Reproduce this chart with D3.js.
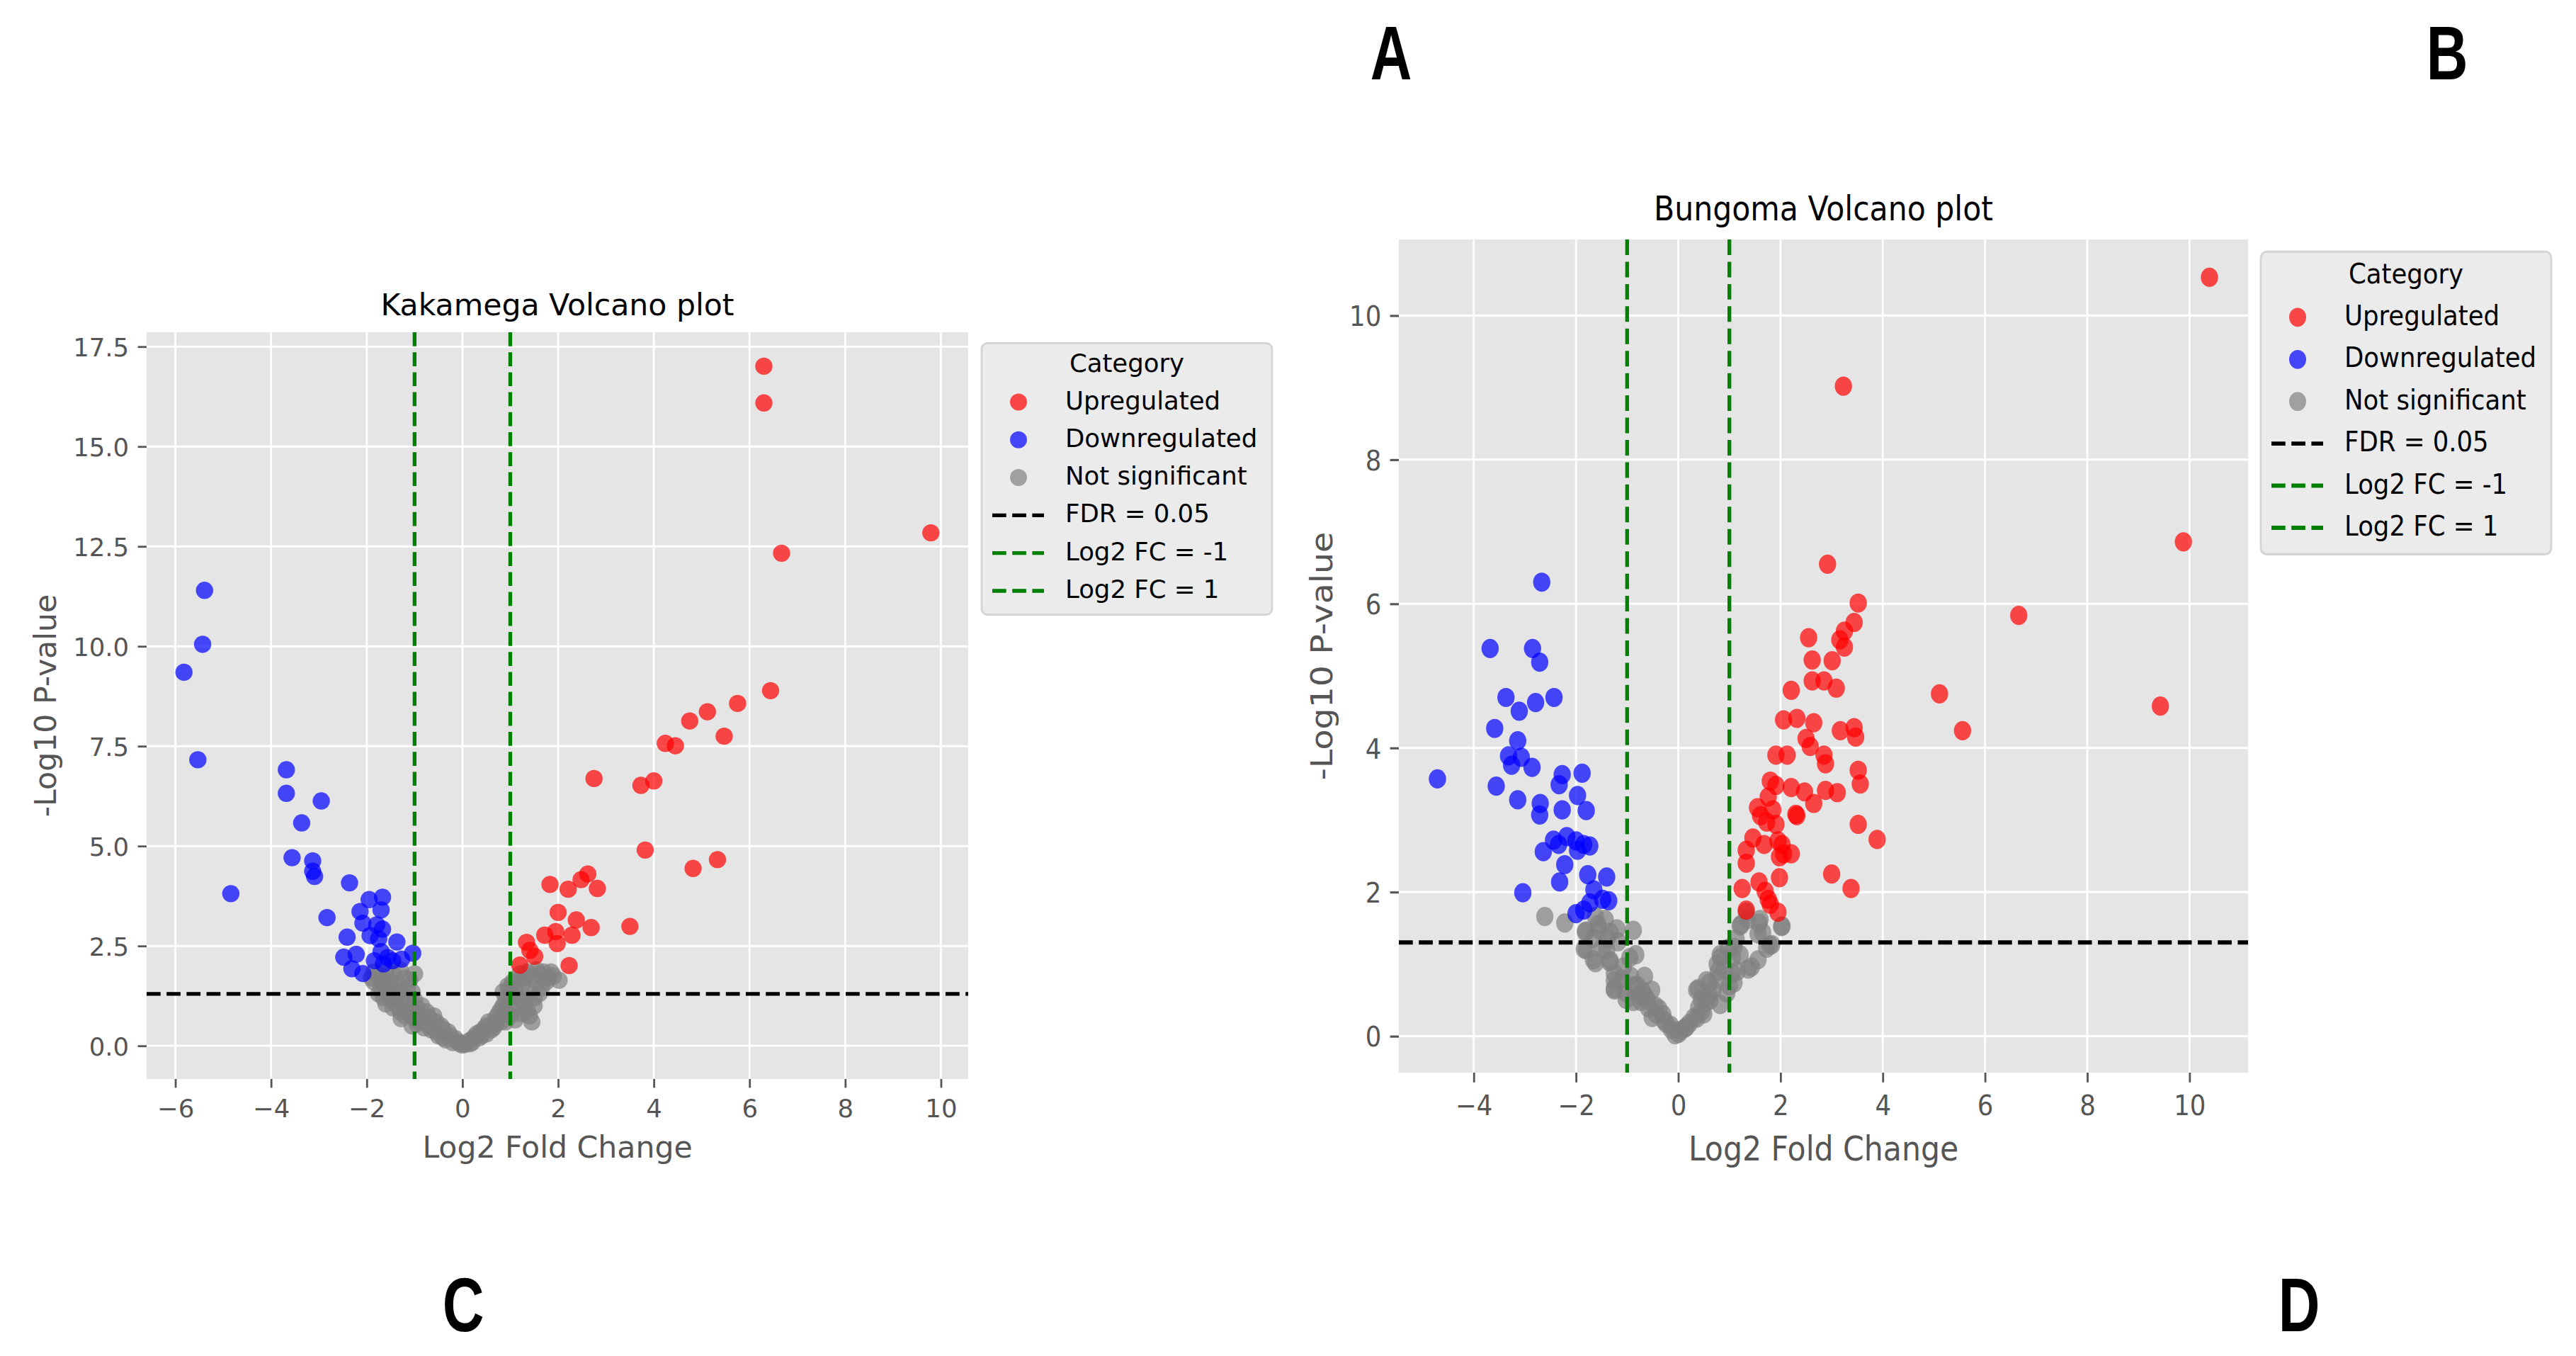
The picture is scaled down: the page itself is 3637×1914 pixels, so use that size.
<!DOCTYPE html>
<html>
<head>
<meta charset="utf-8">
<script src="https://cdn.jsdelivr.net/npm/d3@7"></script>
<style>
  body { margin: 0; background: #fff; }
  svg { display: block; }
</style>
</head>
<body>
<svg id="fig" width="3637" height="1914"></svg>
<script>
// ---- data: [log2 fold change, -log10 p-value] ----
var kakamegaUp = [
  [6.30,17.01],[6.30,16.09],[9.79,12.84],[6.67,12.33],[6.44,8.89],[5.75,8.57],[5.12,8.36],
  [4.75,8.13],[5.47,7.75],[4.24,7.57],[4.45,7.51],[2.75,6.69],[3.73,6.52],[4.00,6.63],
  [3.82,4.90],[4.82,4.44],[5.33,4.66],[1.83,4.04],[2.21,3.92],[2.48,4.16],[2.62,4.30],
  [2.82,3.94],[2.00,3.34],[2.38,3.15],[2.69,2.96],[3.50,2.99],[1.72,2.77],[1.95,2.86],
  [2.29,2.77],[1.98,2.56],[1.34,2.59],[1.41,2.39],[1.51,2.24],[1.20,2.02],[2.23,2.01]
];
var kakamegaDown = [
  [-5.39,11.40],[-5.43,10.05],[-5.82,9.35],[-5.53,7.16],[-4.84,3.81],[-3.68,6.91],[-3.68,6.32],
  [-2.95,6.13],[-3.36,5.58],[-3.56,4.71],[-3.13,4.63],[-3.13,4.37],[-3.09,4.24],[-2.36,4.08],
  [-2.83,3.21],[-1.95,3.66],[-1.67,3.72],[-1.70,3.40],[-2.14,3.36],[-2.08,3.07],[-1.79,3.03],
  [-1.67,2.92],[-1.93,2.76],[-1.75,2.68],[-2.41,2.72],[-1.37,2.60],[-2.48,2.22],[-2.22,2.29],
  [-2.31,1.93],[-2.08,1.81],[-1.84,2.13],[-1.65,2.05],[-1.46,2.13],[-1.27,2.17],[-1.04,2.32],
  [-1.56,2.21],[-1.70,2.36]
];
var kakamegaNs = [
  [-1.75,1.75],[-1.60,1.85],[-1.45,1.80],[-1.30,1.90],[-1.20,1.70],[-1.65,1.55],[-1.50,1.60],
  [-1.35,1.55],[-1.15,1.45],[-1.05,1.35],[-1.70,1.45],[-1.55,1.30],[-1.40,1.20],[-1.25,1.10],
  [-1.60,1.05],[-1.45,0.95],[-1.30,0.85],[-1.20,0.75],[-1.00,1.15],[-0.95,0.95],[-0.85,1.00],
  [-0.90,0.80],[-0.75,0.85],[-0.70,0.70],[-0.60,0.75],[-0.55,0.60],[-0.45,0.50],[-0.40,0.42],
  [-0.30,0.35],[-0.25,0.25],[-0.15,0.18],[-0.10,0.10],[-0.05,0.05],[0.00,0.02],[0.05,0.04],
  [0.10,0.10],[0.18,0.15],[0.25,0.22],[0.30,0.30],[0.38,0.35],[0.45,0.42],[0.50,0.50],
  [0.55,0.60],[0.62,0.55],[0.70,0.70],[0.75,0.80],[0.80,0.90],[0.85,1.00],[0.90,1.15],
  [0.95,1.30],[0.85,1.35],[0.95,1.50],[1.05,1.60],[1.10,1.40],[1.15,1.20],[1.20,1.00],
  [1.30,1.10],[1.35,0.90],[1.25,1.50],[1.40,1.35],[1.50,1.20],[1.30,1.70],[1.45,1.75],
  [1.55,1.60],[1.60,1.80],[1.70,1.85],[1.80,1.70],[1.65,1.45],[2.02,1.64],[-1.05,0.50],
  [-0.95,0.55],[-1.00,0.70],[1.00,0.75],[1.10,0.65],[1.45,0.60],[-1.28,0.68],[-1.85,1.60],
  [-1.85,1.85],[-1.90,1.70],[-1.75,1.30],[-1.65,1.20],[-1.50,1.45],[-1.35,1.35],[-1.20,1.25],
  [-1.10,1.00],[-1.15,0.85],[-1.05,0.85],[-0.95,0.65],[-0.85,0.60],[-0.80,0.45],[-0.70,0.50],
  [-0.65,0.40],[-0.55,0.35],[-0.50,0.25],[-0.40,0.20],[-0.35,0.15],[-0.20,0.08],[0.15,0.05],
  [0.20,0.08],[0.35,0.20],[0.40,0.25],[0.50,0.30],[0.60,0.40],[0.65,0.45],[0.70,0.55],
  [0.80,0.60],[0.90,0.60],[0.95,0.80],[1.00,1.00],[1.05,1.25],[1.00,1.45],[1.15,1.65],
  [1.20,1.80],[1.35,1.85],[1.55,1.90],[1.75,1.60],[1.85,1.85],[1.90,1.75],[1.60,1.30],
  [1.50,1.00],[1.40,0.75],[1.25,0.80],[-1.50,1.15],[-1.35,1.00],[-1.60,1.70],[-1.00,1.80],
  [-1.10,1.65]
];

var bungomaUp = [
  [10.39,10.53],[3.23,9.02],[9.88,6.86],[2.92,6.55],[6.66,5.84],[3.52,6.01],[3.44,5.74],
  [3.25,5.62],[3.16,5.50],[3.25,5.40],[2.55,5.53],[2.62,5.22],[3.01,5.21],[2.62,4.93],
  [2.85,4.93],[3.09,4.83],[2.21,4.80],[5.11,4.75],[9.43,4.58],[5.56,4.24],[2.06,4.39],
  [2.32,4.41],[2.65,4.35],[3.17,4.24],[3.44,4.28],[3.47,4.15],[2.50,4.13],[2.58,4.02],
  [1.91,3.90],[2.13,3.90],[2.85,3.90],[2.88,3.78],[3.52,3.69],[3.56,3.50],[1.80,3.54],
  [1.91,3.48],[2.21,3.45],[2.47,3.39],[2.88,3.41],[3.11,3.38],[2.65,3.23],[1.76,3.32],
  [1.55,3.17],[1.85,3.14],[1.61,3.06],[1.73,2.97],[1.91,2.94],[2.30,3.08],[2.32,3.06],
  [3.52,2.94],[3.89,2.73],[1.46,2.75],[1.95,2.71],[2.03,2.66],[1.68,2.66],[1.33,2.58],
  [2.06,2.53],[2.21,2.53],[1.33,2.40],[1.98,2.49],[3.00,2.25],[1.98,2.20],[1.58,2.14],
  [3.38,2.05],[1.25,2.05],[1.70,2.01],[1.76,1.90],[1.80,1.83],[1.33,1.75],[1.95,1.72]
];
var bungomaDown = [
  [-2.67,6.30],[-3.68,5.38],[-2.85,5.38],[-2.71,5.19],[-3.37,4.70],[-2.43,4.70],[-3.11,4.51],
  [-2.79,4.63],[-3.59,4.27],[-3.14,4.10],[-3.32,3.89],[-3.07,3.87],[-3.26,3.76],[-2.86,3.73],
  [-4.71,3.57],[-2.27,3.63],[-1.88,3.65],[-2.33,3.49],[-3.56,3.47],[-3.14,3.28],[-1.97,3.34],
  [-2.70,3.23],[-2.71,3.07],[-2.27,3.14],[-1.80,3.13],[-2.44,2.72],[-2.18,2.77],[-2.00,2.71],
  [-1.85,2.66],[-1.73,2.64],[-2.34,2.66],[-1.97,2.58],[-2.64,2.56],[-2.22,2.38],[-2.32,2.14],
  [-1.77,2.24],[-1.40,2.21],[-3.04,1.99],[-1.65,2.03],[-1.48,1.90],[-1.73,1.85],[-1.36,1.88],
  [-2.00,1.70],[-1.85,1.75]
];
var bungomaNs = [
  [-2.61,1.66],[-2.22,1.57],[-1.62,1.66],[-1.80,1.46],[-1.55,1.48],[-1.33,1.44],[-0.88,1.47],
  [-1.18,1.31],[-1.80,1.20],[-1.40,1.20],[-1.62,1.02],[-1.33,1.05],[-0.95,1.09],[-1.25,0.87],
  [-1.10,0.79],[-1.25,0.66],[-1.03,0.61],[-0.80,0.70],[-0.66,0.57],[-0.88,0.48],[-0.58,0.39],
  [-0.43,0.31],[-0.28,0.22],[-0.13,0.09],[0.01,0.04],[0.16,0.13],[0.31,0.26],[0.46,0.35],
  [0.39,0.66],[0.61,0.74],[0.76,0.79],[0.91,0.92],[0.83,1.09],[0.98,1.22],[1.13,1.35],
  [1.21,1.53],[1.36,1.62],[1.58,1.57],[1.65,1.44],[1.43,0.96],[1.73,1.22],[1.83,1.27],
  [2.03,1.53],[1.06,1.09],[0.76,1.00],[-0.51,0.26],[-0.73,0.48],[0.61,0.57],[0.54,0.48],
  [1.21,1.13],
  [-1.82,1.45],[-1.84,1.21],[-1.66,1.06],[-1.57,1.55],[-1.43,1.62],[-1.20,1.49],[-0.83,1.13],
  [-1.48,1.23],[-1.34,1.03],[-1.25,0.77],[-1.25,0.64],[-1.02,0.51],[-0.93,0.83],[-0.66,0.83],
  [-0.52,0.64],[-0.38,0.38],[-0.24,0.18],[-0.06,0.02],[0.13,0.11],[0.36,0.25],[0.45,0.51],
  [0.55,0.77],[0.82,0.44],[0.78,0.90],[1.00,0.70],[1.05,0.87],[0.82,1.13],[1.09,1.23],
  [1.23,1.55],[1.33,1.72],[1.60,1.62],[1.56,1.42],[1.79,1.26],[1.56,1.06],[1.37,0.93],
  [2.02,1.52],[1.09,0.74],[0.36,0.64],[-0.75,0.57],[-1.07,0.96],[-1.39,1.36],[-1.66,1.36],
  [0.68,0.64],[0.50,0.31],[-0.85,0.70],[-0.70,0.62],[-0.60,0.50],[-0.45,0.42],[-0.30,0.30],
  [-0.15,0.15],[0.05,0.08],[0.22,0.18],[0.40,0.40],[0.62,0.50],[0.95,0.60],[1.15,0.90]
];

var kakamegaXTicks = [-6, -4, -2, 0, 2, 4, 6, 8, 10];
var kakamegaYTicks = [0, 2.5, 5, 7.5, 10, 12.5, 15, 17.5];
var bungomaXTicks = [-4, -2, 0, 2, 4, 6, 8, 10];
var bungomaYTicks = [0, 2, 4, 6, 8, 10];

var fdrCutoff = 0.05;
var lfcCutoffs = [-1, 1];
var categories = ["Upregulated", "Downregulated", "Not significant"];
var lineLabels = ["FDR = 0.05", "Log2 FC = -1", "Log2 FC = 1"];
var panelLetters = ["A", "B", "C", "D"];

var FONT = "'DejaVu Sans', Verdana, sans-serif";
var catColor = { "Upregulated": "#ff0000", "Downregulated": "#0000ff", "Not significant": "#808080" };

var svg = d3.select("#fig");

function padded(ext) {
  var m = (ext[1] - ext[0]) * 0.05;
  return [ext[0] - m, ext[1] + m];
}

function drawVolcano(p) {
  var sy = p.sy,
      x0 = p.left, x1 = p.right,
      y0 = p.top / sy, y1 = p.bottom / sy;

  var g = svg.append("g").attr("transform", "scale(1," + sy + ")");

  var all = p.ns.concat(p.down, p.up);
  var xScale = d3.scaleLinear().domain(padded(d3.extent(all, function(d) { return d[0]; }))).range([x0, x1]);
  var yScale = d3.scaleLinear().domain(padded(d3.extent(all, function(d) { return d[1]; }))).range([y1, y0]);

  // panel background
  g.append("rect")
   .attr("x", x0).attr("y", y0)
   .attr("width", x1 - x0).attr("height", y1 - y0)
   .attr("fill", "#e5e5e5");

  // white grid
  var grid = g.append("g").attr("stroke", "#ffffff").attr("stroke-width", 2.8);
  grid.selectAll(".vg").data(p.xTicks).enter().append("line")
      .attr("x1", function(d) { return xScale(d); }).attr("x2", function(d) { return xScale(d); })
      .attr("y1", y0).attr("y2", y1);
  grid.selectAll(".hg").data(p.yTicks).enter().append("line")
      .attr("y1", function(d) { return yScale(d); }).attr("y2", function(d) { return yScale(d); })
      .attr("x1", x0).attr("x2", x1);

  // axes
  var xAxis = g.append("g")
     .attr("transform", "translate(0," + y1 + ")")
     .call(d3.axisBottom(xScale).tickValues(p.xTicks).tickSize(12.4).tickPadding(16.4).tickFormat(d3.format("d")));
  var yAxis = g.append("g")
     .attr("transform", "translate(" + x0 + ",0)")
     .call(d3.axisLeft(yScale).tickValues(p.yTicks).tickSize(12.4).tickPadding(12.4).tickFormat(d3.format(p.yFormat)));
  [xAxis, yAxis].forEach(function(ax) {
    ax.select(".domain").remove();
    ax.selectAll(".tick line").attr("stroke", "#555555").attr("stroke-width", 2.8);
    ax.selectAll(".tick text")
      .attr("fill", "#555555")
      .style("font-family", FONT)
      .style("font-size", "35.5px");
  });
  yAxis.selectAll(".tick text").attr("dy", "0.36em");

  // points
  function dots(data, cat) {
    g.append("g").selectAll("circle")
     .data(data)
     .enter().append("circle")
     .attr("cx", function(d) { return xScale(d[0]); })
     .attr("cy", function(d) { return yScale(d[1]); })
     .attr("r", 12.2)
     .attr("fill", catColor[cat])
     .attr("fill-opacity", 0.7);
  }
  dots(p.ns, "Not significant");
  dots(p.down, "Downregulated");
  dots(p.up, "Upregulated");

  // threshold lines
  var fdrY = yScale(-Math.log10(fdrCutoff));
  g.append("line")
   .attr("x1", x0).attr("x2", x1).attr("y1", fdrY).attr("y2", fdrY)
   .attr("stroke", "#000000").attr("stroke-width", 5.3).attr("stroke-dasharray", "19.7,8.5");
  g.selectAll(".fc").data(lfcCutoffs).enter().append("line")
   .attr("x1", function(d) { return xScale(d); }).attr("x2", function(d) { return xScale(d); })
   .attr("y1", y0).attr("y2", y1)
   .attr("stroke", "#008000").attr("stroke-width", 5.3).attr("stroke-dasharray", "19.7,8.5");

  // title and labels
  var cx = (x0 + x1) / 2;
  g.append("text")
   .attr("x", cx).attr("y", y0 - 24)
   .attr("text-anchor", "middle")
   .style("font-family", FONT).style("font-size", "42.6px")
   .attr("fill", "#000000")
   .text(p.title);
  g.append("text")
   .attr("x", cx).attr("y", y1 + 111)
   .attr("text-anchor", "middle")
   .style("font-family", FONT).style("font-size", "42.6px")
   .attr("fill", "#555555")
   .text("Log2 Fold Change");

  var tickW = 0;
  yAxis.selectAll(".tick text").each(function() { tickW = Math.max(tickW, this.getComputedTextLength()); });
  var ylx = x0 - 24.8 - tickW - 14.2 - 10;
  g.append("text")
   .attr("transform", "translate(" + ylx + "," + ((y0 + y1) / 2) + ") rotate(-90)")
   .attr("text-anchor", "middle")
   .style("font-family", FONT).style("font-size", "42.6px")
   .attr("fill", "#555555")
   .text("-Log10 P-value");

  // legend
  var lx = x1 + p.legendDx, ly = y0 + 15.5;
  var lg = g.append("g").attr("transform", "translate(" + lx + "," + ly + ")");
  lg.append("rect")
    .attr("width", 410).attr("height", 383).attr("rx", 8)
    .attr("fill", "#ebebeb").attr("stroke", "#d4d4d4").attr("stroke-width", 2.8);
  lg.append("text")
    .attr("x", 205).attr("y", 40)
    .attr("text-anchor", "middle")
    .style("font-family", FONT).style("font-size", "35.5px")
    .attr("fill", "#000000")
    .text("Category");
  var rowY = function(i) { return 93 + i * 53.3; };
  categories.forEach(function(c, i) {
    lg.append("circle")
      .attr("cx", 52).attr("cy", rowY(i) - 10).attr("r", 12)
      .attr("fill", catColor[c]).attr("fill-opacity", 0.7);
    lg.append("text")
      .attr("x", 118).attr("y", rowY(i))
      .style("font-family", FONT).style("font-size", "35.5px")
      .attr("fill", "#000000")
      .text(c);
  });
  lineLabels.forEach(function(l, j) {
    var i = j + 3;
    lg.append("line")
      .attr("x1", 15).attr("x2", 88).attr("y1", rowY(i) - 10).attr("y2", rowY(i) - 10)
      .attr("stroke", j === 0 ? "#000000" : "#008000")
      .attr("stroke-width", 5.3).attr("stroke-dasharray", "19.7,8.5");
    lg.append("text")
      .attr("x", 118).attr("y", rowY(i))
      .style("font-family", FONT).style("font-size", "35.5px")
      .attr("fill", "#000000")
      .text(l);
  });
}

drawVolcano({
  title: "Kakamega Volcano plot",
  up: kakamegaUp, down: kakamegaDown, ns: kakamegaNs,
  xTicks: kakamegaXTicks, yTicks: kakamegaYTicks, yFormat: ".1f",
  left: 207, right: 1367, top: 469, bottom: 1523, sy: 1, legendDx: 19
});
drawVolcano({
  title: "Bungoma Volcano plot",
  up: bungomaUp, down: bungomaDown, ns: bungomaNs,
  xTicks: bungomaXTicks, yTicks: bungomaYTicks, yFormat: "d",
  left: 1975, right: 3174, top: 338, bottom: 1514, sy: 1.115, legendDx: 18
});

// panel letters (narrow bold face, squeezed horizontally)
var letterPos = [[1964, 112], [3455, 112], [654, 1879], [3246, 1879]];
svg.selectAll(".letter")
   .data(panelLetters)
   .enter().append("text")
   .attr("class", "letter")
   .attr("transform", function(d, i) {
     return "translate(" + letterPos[i][0] + "," + letterPos[i][1] + ") scale(0.76,1)";
   })
   .attr("text-anchor", "middle")
   .style("font-family", "'Liberation Sans', Arial, sans-serif")
   .style("font-weight", "bold")
   .style("font-size", "107px")
   .attr("fill", "#000000")
   .text(function(d) { return d; });
</script>
</body>
</html>
